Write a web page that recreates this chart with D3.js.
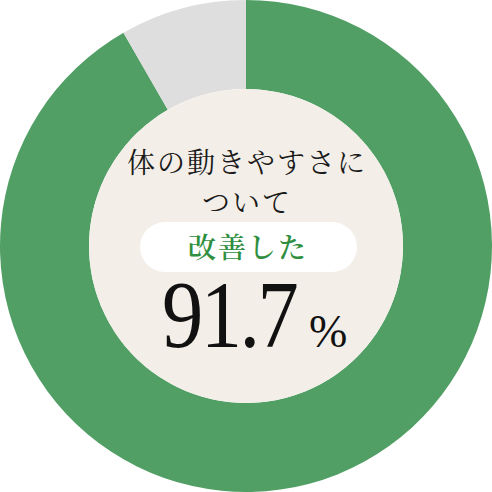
<!DOCTYPE html>
<html>
<head>
<meta charset="utf-8">
<script src="https://cdn.jsdelivr.net/npm/d3@7"></script>
<style>
  html, body { margin: 0; padding: 0; background: #fff; }
</style>
</head>
<body>
<div id="chart"></div>
<script>
// values
const categories = ["改善した", "その他"];
const values = [91.7, 8.3];
const colors = ["#529f66", "#dedede"];
const titleLines = ["体の動きやすさに", "ついて"];
const answerLabel = "改善した";
const percentText = "91.7";

const width = 492, height = 492;
const cx = 246, cy = 246;
const outerR = 246, innerR = 157;

const svg = d3.select("#chart").append("svg")
    .attr("width", width)
    .attr("height", height);

const g = svg.append("g")
    .attr("transform", "translate(" + cx + "," + cy + ")");

// pie goes clockwise from 12 o'clock, the green slice first
const pie = d3.pie().sort(null).value(d => d);
const arc = d3.arc().innerRadius(innerR).outerRadius(outerR);

g.selectAll("path.slice")
    .data(pie(values))
    .enter()
    .append("path")
    .attr("class", "slice")
    .attr("d", arc)
    .attr("fill", (d, i) => colors[i]);

// beige centre
g.append("circle")
    .attr("r", innerR)
    .attr("fill", "#f3efe8");

const jpFont = "'Noto Serif CJK JP', 'Noto Sans CJK JP', sans-serif";

// title
g.selectAll("text.title")
    .data(titleLines)
    .enter()
    .append("text")
    .attr("class", "title")
    .attr("x", 1)
    .attr("y", (d, i) => -85 + i * 40)
    .attr("text-anchor", "middle")
    .attr("dominant-baseline", "central")
    .attr("font-family", jpFont)
    .attr("font-size", 28)
    .attr("letter-spacing", 2)
    .attr("fill", "#1a1a1a")
    .text(d => d);

// white pill with the answer
g.append("rect")
    .attr("x", -106)
    .attr("y", -24)
    .attr("width", 217)
    .attr("height", 50)
    .attr("rx", 25)
    .attr("fill", "#ffffff");

g.append("text")
    .attr("x", 2)
    .attr("y", 0)
    .attr("text-anchor", "middle")
    .attr("dominant-baseline", "central")
    .attr("font-family", jpFont)
    .attr("font-size", 28)
    .attr("font-weight", 600)
    .attr("letter-spacing", 2)
    .attr("fill", "#2f8f3f")
    .text(answerLabel);

// big percentage, a bit condensed
g.append("text")
    .attr("transform", "translate(-84,101) scale(0.86,1)")
    .attr("font-family", "'Liberation Serif', 'DejaVu Serif', serif")
    .attr("font-size", 96)
    .attr("letter-spacing", -3)
    .attr("fill", "#111")
    .text(percentText);

g.append("text")
    .attr("x", 63)
    .attr("y", 101)
    .attr("font-family", "'Liberation Serif', 'DejaVu Serif', serif")
    .attr("font-size", 46)
    .attr("fill", "#111")
    .text("%");
</script>
</body>
</html>
